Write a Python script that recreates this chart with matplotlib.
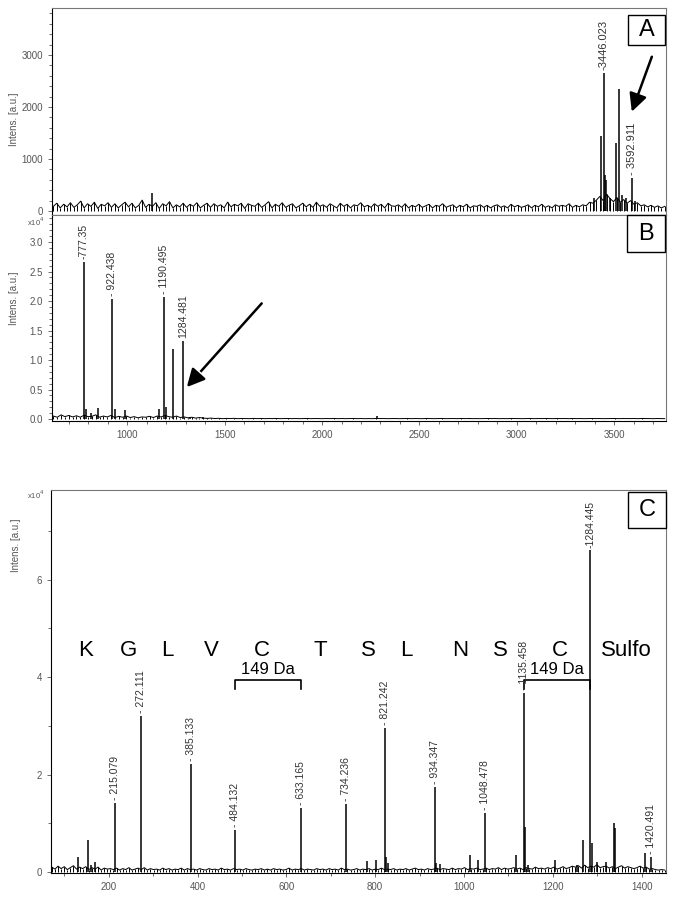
import matplotlib
matplotlib.use("Agg")
import matplotlib.pyplot as plt
import matplotlib.patheffects as pe
import numpy as np
from matplotlib.patches import Rectangle
from matplotlib.ticker import FuncFormatter, MultipleLocator

plt.rcParams["font.family"] = ["Liberation Sans", "DejaVu Sans"]

# ---- panel A: full MS, counts ----
a_peak_mz = [1126, 3397, 3433, 3446.023, 3452, 3461, 3480, 3512, 3526, 3540, 3560, 3592.911, 3610]
a_peak_int = [350, 250, 1450, 2650, 700, 600, 250, 1300, 2350, 300, 250, 630, 200]
a_label_mz = [3446.023, 3592.911]
a_label_int = [2650, 630]
a_label_text = ["-3446.023", "- 3592.911"]
a_noise = [
    90, 150, 60, 130, 80, 160, 70, 120, 190, 60,
    140, 90, 170, 50, 130, 100, 160, 70, 140, 60,
    120, 170, 80, 150, 60, 110, 210, 70, 130, 90,
    160, 50, 140, 100, 180, 60, 120, 80, 150, 70,
    130, 90, 160, 60, 110, 150, 70, 140, 90, 120,
    60, 170, 80, 130, 100, 150, 50, 140, 110, 90,
    150, 70, 120, 180, 60, 130, 90, 160, 70, 110,
    140, 60, 100, 150, 80, 130, 70, 170, 90, 120,
    70, 140, 100, 60, 150, 90, 130, 60, 120, 100,
    160, 80, 110, 70, 140, 90, 130, 60, 150, 100,
    90, 120, 70, 140, 60, 110, 80, 130, 70, 100,
    130, 60, 110, 90, 140, 70, 100, 120, 60, 110,
    80, 130, 60, 100, 90, 120, 70, 110, 60, 100,
    120, 70, 100, 60, 130, 80, 110, 70, 90, 120,
    60, 110, 80, 130, 70, 100, 60, 120, 90, 110,
    90, 140, 70, 110, 80, 120, 100, 170, 150, 210,
    280, 200, 320, 240, 180, 260, 170, 220, 150, 200,
    130, 160, 100, 120, 80, 110, 70, 100, 60, 90,
]

# ---- panel B: counts ----
b_peak_mz = [777.35, 790, 812, 850, 922.438, 935, 990, 1160, 1190.495, 1200, 1235, 1284.481, 1320, 1390, 2280, 2760]
b_peak_int = [26700, 1700, 1000, 1800, 20300, 1700, 1600, 1700, 20700, 2000, 11900, 13200, 300, 300, 500, 200]
b_label_mz = [777.35, 922.438, 1190.495, 1284.481]
b_label_int = [26700, 20300, 20700, 13200]
b_label_text = ["-777.35", "- 922.438", "- 1190.495", "1284.481"]
b_noise = [
    500, 300, 700, 400, 600, 350, 550, 300, 650, 400,
    450, 700, 300, 500, 350, 600, 250, 450, 300, 500,
    250, 400, 200, 350, 300, 450, 250, 500, 350, 600,
    400, 300, 500, 250, 350, 200, 300, 150, 250, 150,
    100, 150, 80, 120, 60, 100, 80, 110, 60, 90,
    80, 60, 100, 70, 90, 60, 80, 70, 90, 60,
    70, 90, 60, 80, 60, 70, 90, 60, 80, 70,
    60, 80, 70, 90, 60, 80, 60, 70, 90, 60,
    80, 60, 70, 60, 90, 70, 80, 60, 70, 80,
    60, 70, 90, 60, 80, 70, 60, 90, 70, 60,
    80, 90, 60, 70, 80, 60, 90, 70, 80, 60,
    70, 60, 80, 90, 70, 80, 60, 70, 60, 90,
    80, 70, 60, 80, 90, 60, 80, 70, 90, 70,
    60, 90, 70, 80, 60, 90, 70, 80, 60, 70,
    90, 70, 80, 60, 70, 80, 90, 60, 80, 70,
    70, 80, 60, 90, 80, 70, 60, 80, 70, 60,
]

# ---- panel C: MS/MS, counts ----
c_peak_mz = [130, 153, 160, 170, 215.079, 272.111, 385.133, 484.132, 633.165, 734.236,
             782, 802, 821.242, 825, 830, 934.347, 938, 945, 1014, 1031, 1048.478,
             1117, 1135.458, 1138, 1145, 1205, 1255, 1268, 1284.445, 1288, 1300, 1320,
             1338, 1341, 1408, 1420.491]
c_peak_int = [3000, 6600, 1500, 2000, 14200, 32000, 22200, 8600, 13100, 13900,
              2200, 2500, 29500, 3000, 1800, 17400, 1800, 1600, 3500, 2500, 12100,
              3500, 36700, 9200, 1500, 2500, 1500, 6600, 66000, 6000, 2000, 2000,
              10000, 9000, 4000, 3100]
c_label_mz = [215.079, 272.111, 385.133, 484.132, 633.165, 734.236, 821.242,
              934.347, 1048.478, 1135.458, 1284.445, 1420.491]
c_label_int = [14200, 32000, 22200, 8600, 13100, 13900, 29500, 17400, 12100, 36700, 66000, 3100]
c_label_text = ["- 215.079", "- 272.111", "- 385.133", "- 484.132", "- 633.165", "- 734.236",
                "- 821.242", "- 934.347", "- 1048.478", "- 1135.458", "-1284.445", "- 1420.491"]
c_noise = [
    1000, 600, 1200, 700, 1100, 500, 900, 1300, 600, 1000,
    700, 1100, 500, 900, 600, 1000, 400, 800, 600, 700,
    500, 800, 400, 700, 500, 900, 400, 600, 800, 500,
    900, 400, 700, 500, 600, 400, 800, 500, 700, 400,
    600, 500, 800, 400, 700, 500, 600, 400, 700, 500,
    400, 700, 500, 600, 400, 800, 500, 600, 400, 700,
    500, 600, 400, 700, 500, 400, 600, 500, 700, 400,
    600, 400, 700, 500, 600, 400, 500, 800, 400, 600,
    500, 700, 400, 600, 500, 400, 700, 500, 600, 400,
    700, 500, 600, 400, 800, 500, 600, 400, 500, 700,
    400, 600, 500, 700, 400, 600, 500, 800, 500, 600,
    500, 700, 400, 600, 500, 700, 400, 600, 800, 500,
    600, 400, 700, 500, 600, 800, 500, 700, 600, 500,
    800, 500, 700, 600, 900, 500, 700, 600, 800, 500,
    600, 800, 500, 700, 600, 900, 500, 800, 600, 700,
    900, 600, 800, 500, 900, 700, 600, 1000, 700, 800,
    600, 900, 700, 1000, 600, 800, 1100, 700, 900, 1200,
    1000, 1300, 800, 1400, 900, 1200, 1000, 1500, 900, 1100,
    1200, 800, 1100, 700, 1000, 1300, 800, 1100, 900, 700,
    900, 1200, 800, 1000, 600, 700, 500, 400, 500, 400,
]

# sequence ladder annotation in C
sequence = ["K", "G", "L", "V", "C", "T", "S", "L", "N", "S", "C", "Sulfo"]
sequence_mz = [147, 244, 331, 430, 545, 676, 785, 871, 991, 1081, 1216, 1366]
gap_pairs = [(484.132, 633.165), (1135.458, 1284.445)]
gap_text = "149 Da"


def style_axes(ax):
    for side in ["left", "bottom"]:
        ax.spines[side].set_color("black")
        ax.spines[side].set_linewidth(0.8)
    for side in ["top", "right"]:
        ax.spines[side].set_color("#777777")
        ax.spines[side].set_linewidth(0.8)
    ax.tick_params(which="both", direction="out", colors="#555555", labelsize=7, width=0.6)
    ax.tick_params(which="major", length=3)
    ax.tick_params(which="minor", length=2)


def draw_spectrum(ax, noise, start, stop, peak_mz, peak_int):
    noise_x = np.linspace(start, stop, len(noise))
    ax.vlines(noise_x, 0, noise, color="black", lw=0.7)
    ax.plot(noise_x, noise, color="black", lw=0.7)
    ax.vlines(peak_mz, 0, peak_int, color="black", lw=1.1)


def label_peaks(ax, label_mz, label_int, label_text, size=7.5):
    for mz, h, text in zip(label_mz, label_int, label_text):
        ax.annotate(text, xy=(mz, h), xytext=(0, 2),
                    textcoords="offset points", rotation=90, ha="center", va="bottom",
                    fontsize=size, color="#333333")


def panel_box(ax, letter, rect):
    ax.add_patch(Rectangle(rect[:2], rect[2], rect[3], transform=ax.transAxes,
                           facecolor="white", edgecolor="black", lw=1, zorder=5, clip_on=False))
    ax.text(rect[0] + rect[2] / 2, rect[1] + rect[3] / 2, letter, transform=ax.transAxes,
            ha="center", va="center", fontsize=17, zorder=6)


fig = plt.figure(figsize=(6.8, 8.99), dpi=100)
ax_a = fig.add_axes([0.0765, 0.7608, 0.903, 0.2303])
ax_b = fig.add_axes([0.0765, 0.5317, 0.903, 0.2291])
ax_c = fig.add_axes([0.075, 0.0289, 0.9044, 0.426])

# panel A
draw_spectrum(ax_a, a_noise, 620, 3760, a_peak_mz, a_peak_int)
label_peaks(ax_a, a_label_mz, a_label_int, a_label_text, size=8)
ax_a.set_xlim(613, 3767)
ax_a.set_ylim(-77, 3904)
ax_a.yaxis.set_major_locator(MultipleLocator(1000))
ax_a.yaxis.set_minor_locator(MultipleLocator(200))
ax_a.set_xticks([])
style_axes(ax_a)
ax_a.annotate("", xy=(3591, 1910), xytext=(3694, 2967),
              arrowprops=dict(arrowstyle="-|>,head_length=0.6,head_width=0.3", lw=1.8,
                              color="black", mutation_scale=18, shrinkA=0, shrinkB=0))
panel_box(ax_a, "A", (0.938, 0.821, 0.060, 0.145))

# panel B
draw_spectrum(ax_b, b_noise, 620, 3760, b_peak_mz, b_peak_int)
label_peaks(ax_b, b_label_mz, b_label_int, b_label_text)
ax_b.set_xlim(613, 3767)
ax_b.set_ylim(-340, 34580)
ax_b.xaxis.set_major_locator(MultipleLocator(500))
ax_b.xaxis.set_minor_locator(MultipleLocator(100))
ax_b.yaxis.set_major_locator(MultipleLocator(5000))
ax_b.yaxis.set_minor_locator(MultipleLocator(1000))
ax_b.yaxis.set_major_formatter(FuncFormatter(lambda v, _: f"{v / 1e4:.1f}"))
style_axes(ax_b)
arrow_b = ax_b.annotate("", xy=(1305, 5400), xytext=(1690, 19600),
                        arrowprops=dict(arrowstyle="-|>,head_length=0.6,head_width=0.3", lw=1.8,
                                        color="black", mutation_scale=18, shrinkA=0, shrinkB=0))
arrow_b.arrow_patch.set_path_effects([pe.withStroke(linewidth=4, foreground="white")])
panel_box(ax_b, "B", (0.937, 0.82, 0.062, 0.18))

# panel C
draw_spectrum(ax_c, c_noise, 72, 1452, c_peak_mz, c_peak_int)
label_peaks(ax_c, c_label_mz, c_label_int, c_label_text)
ax_c.set_xlim(70, 1455)
ax_c.set_ylim(-205, 78360)
ax_c.xaxis.set_major_locator(MultipleLocator(200))
ax_c.xaxis.set_minor_locator(MultipleLocator(100))
ax_c.yaxis.set_major_locator(MultipleLocator(20000))
ax_c.yaxis.set_minor_locator(MultipleLocator(10000))
ax_c.yaxis.set_major_formatter(FuncFormatter(lambda v, _: f"{v / 1e4:.0f}"))
style_axes(ax_c)
for letter, mz in zip(sequence, sequence_mz):
    ax_c.text(mz, 45500, letter, ha="center", va="center", fontsize=16)
for lo, hi in gap_pairs:
    ax_c.plot([lo, lo, hi, hi], [37600, 39400, 39400, 37600], color="black", lw=1.2)
    ax_c.text((lo + hi) / 2, 40000, gap_text, ha="center", va="bottom", fontsize=12)
panel_box(ax_c, "C", (0.938, 0.901, 0.062, 0.094))

# axis captions
for y in [0.8676, 0.6685]:
    fig.text(0.0206, y, "Intens. [a.u.]", rotation=90, ha="center", va="center",
             fontsize=7, color="#555555")
fig.text(0.0235, 0.394, "Intens. [a.u.]", rotation=90, ha="center", va="center",
         fontsize=7, color="#555555")
fig.text(0.052, 0.7535, r"x10$^4$", ha="center", va="center", fontsize=5.5, color="#555555")
fig.text(0.052, 0.4494, r"x10$^4$", ha="center", va="center", fontsize=5.5, color="#555555")

fig.savefig("out.png", dpi=100)
